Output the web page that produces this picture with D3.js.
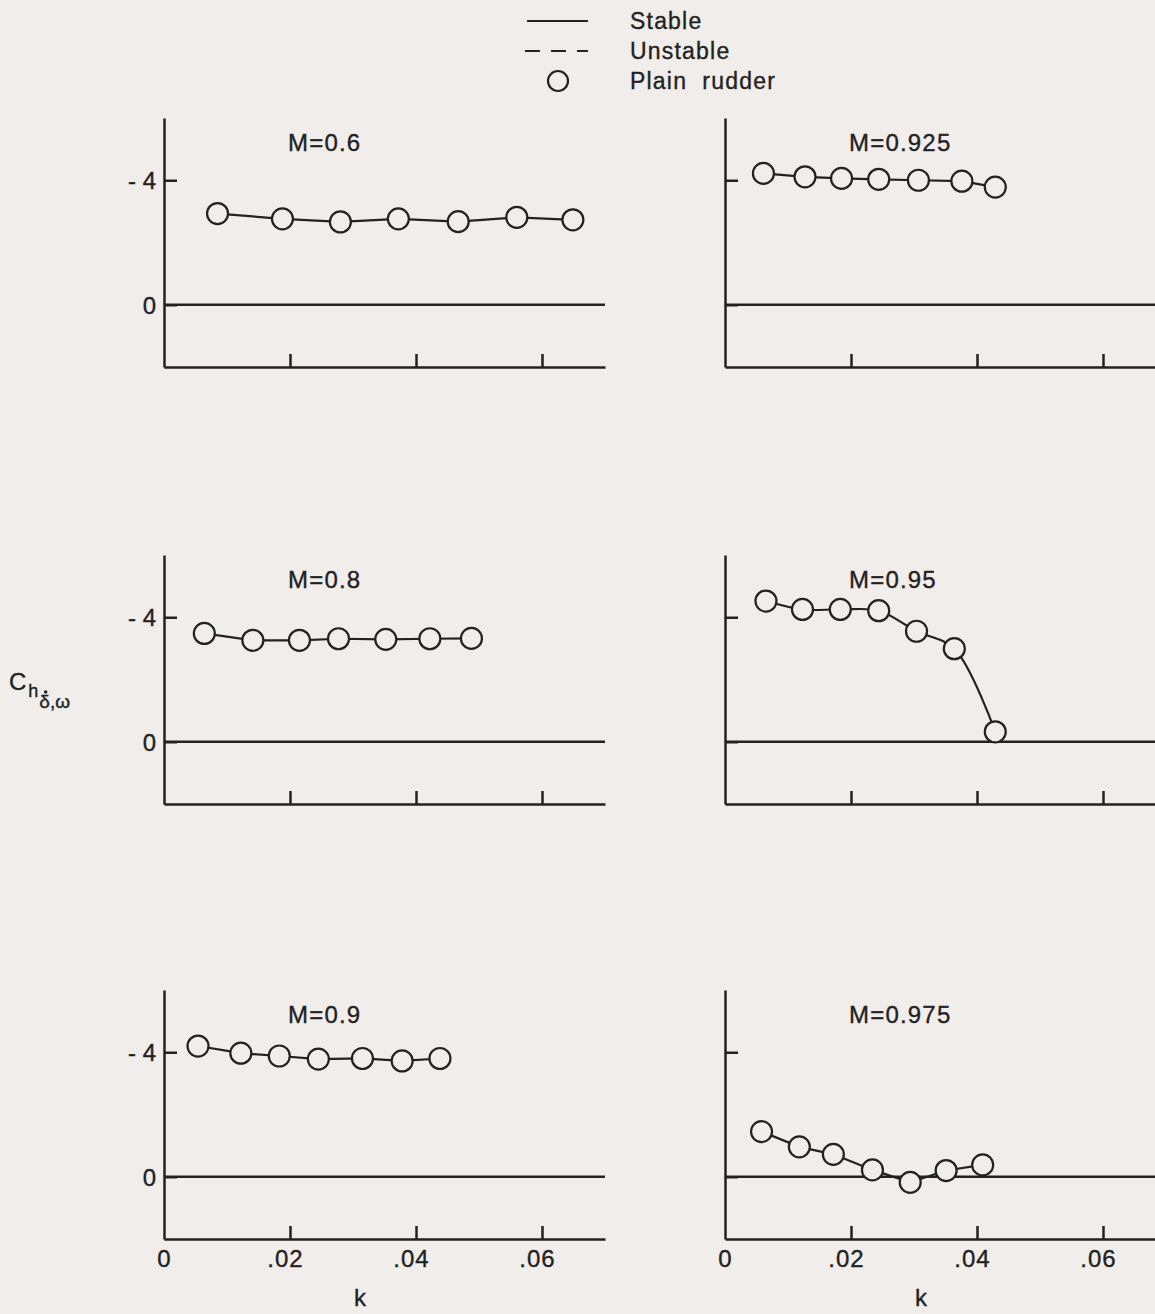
<!DOCTYPE html>
<html><head><meta charset="utf-8">
<script src="https://cdn.jsdelivr.net/npm/d3@7"></script>
<style>
body{margin:0;background:#f1edeb;}
svg{display:block;background:#f1edeb;}
text{font-family:"Liberation Sans",Arial,sans-serif;fill:#222;stroke:#222;stroke-width:0.35px;}
</style>
</head><body>
<svg id="chart" width="1155" height="1314"></svg>
<script>
// ---- data ----
const panelTitles = ["M=0.6", "M=0.8", "M=0.9", "M=0.925", "M=0.95", "M=0.975"];

const kM060 = [0.0085, 0.0188, 0.0280, 0.0372, 0.0467, 0.0560, 0.0649];
const chM060 = [-2.93, -2.76, -2.66, -2.76, -2.67, -2.81, -2.73];

const kM080 = [0.0064, 0.0141, 0.0215, 0.0277, 0.0352, 0.0422, 0.0488];
const chM080 = [-3.48, -3.26, -3.26, -3.31, -3.29, -3.31, -3.32];

const kM090 = [0.0054, 0.0122, 0.0183, 0.0245, 0.0315, 0.0378, 0.0438];
const chM090 = [-4.20, -3.97, -3.88, -3.78, -3.80, -3.72, -3.80];

const kM0925 = [0.0061, 0.0127, 0.0185, 0.0244, 0.0307, 0.0376, 0.0429];
const chM0925 = [-4.22, -4.11, -4.06, -4.03, -4.00, -3.97, -3.78];

const kM095 = [0.0065, 0.0123, 0.0183, 0.0244, 0.0304, 0.0364, 0.0429];
const chM095 = [-4.52, -4.25, -4.25, -4.21, -3.55, -2.99, -0.32];

const kM0975 = [0.0058, 0.0118, 0.0172, 0.0234, 0.0294, 0.0351, 0.0409];
const chM0975 = [-1.45, -0.96, -0.72, -0.22, 0.18, -0.20, -0.38];

const xTickValues = [0, 0.02, 0.04, 0.06];
const xTickLabels = ["0", ".02", ".04", ".06"];
const yTickValues = [-4, 0];
const yTickLabels = ["- 4", "0"];
const xDomain = [0, 0.07];
const yDomain = [-6, 2];

const legendLabels = ["Stable", "Unstable", "Plain  rudder"];
const yAxisLabel = {main: "C", sub1: "h", sub2: "δ,ω"};
const xAxisLabel = "k";

// ---- layout ----
const ink = "#222";
const bg = "#f1edeb";
const colX = [164, 725];
const rowTop = [118, 555, 990];
const panelW = 441, panelH = 249;

const panels = [
  {title: panelTitles[0], k: kM060, v: chM060, col: 0, row: 0, smooth: false},
  {title: panelTitles[1], k: kM080, v: chM080, col: 0, row: 1, smooth: false},
  {title: panelTitles[2], k: kM090, v: chM090, col: 0, row: 2, smooth: false},
  {title: panelTitles[3], k: kM0925, v: chM0925, col: 1, row: 0, smooth: false},
  {title: panelTitles[4], k: kM095, v: chM095, col: 1, row: 1, smooth: true},
  {title: panelTitles[5], k: kM0975, v: chM0975, col: 1, row: 2, smooth: false}
];

const svg = d3.select("#chart");
const x = d3.scaleLinear().domain(xDomain).range([0, panelW]);
const y = d3.scaleLinear().domain(yDomain).range([0, panelH]);
const fontFam = '"Liberation Sans", Arial, sans-serif';

panels.forEach(p => {
  const g = svg.append("g").attr("transform", `translate(${colX[p.col]},${rowTop[p.row]})`);

  // y axis
  const yAx = d3.axisLeft(y).tickValues(yTickValues).tickSize(-13).tickSizeOuter(0).tickPadding(8)
    .tickFormat((d, i) => p.col === 0 ? yTickLabels[i] : "");
  const ya = g.append("g").call(yAx);
  ya.select(".domain").attr("stroke", ink).attr("stroke-width", 2.5);
  ya.selectAll(".tick line").attr("stroke", ink).attr("stroke-width", 2.5);
  ya.selectAll(".tick text").attr("font-size", 24).attr("fill", ink)
    .style("font-family", fontFam).attr("dy", "0.36em");

  // x axis at bottom
  const xAx = d3.axisBottom(x).tickValues(xTickValues).tickSize(-13).tickSizeOuter(0).tickPadding(11)
    .tickFormat((d, i) => p.row === 2 ? xTickLabels[i] : "");
  const xa = g.append("g").attr("transform", `translate(0,${panelH})`).call(xAx);
  xa.select(".domain").attr("stroke", ink).attr("stroke-width", 2.5);
  xa.selectAll(".tick line").attr("stroke", ink).attr("stroke-width", 2.5)
    .attr("opacity", d => d === 0 ? 0 : 1);
  xa.selectAll(".tick text").attr("font-size", 24).attr("fill", ink)
    .style("font-family", fontFam)
    .attr("dx", d => d === 0 ? 0 : -5).attr("letter-spacing", 1);

  // zero line
  g.append("line").attr("x1", 0).attr("x2", panelW).attr("y1", y(0)).attr("y2", y(0))
    .attr("stroke", ink).attr("stroke-width", 2.5);

  // title
  g.append("text").attr("x", 124).attr("y", 33).attr("font-size", 24)
    .attr("letter-spacing", 1.2).text(p.title);

  // data line
  const pts = p.k.map((k, i) => [k, p.v[i]]);
  const line = d3.line().x(d => x(d[0])).y(d => y(d[1]))
    .curve(p.smooth ? d3.curveCatmullRom.alpha(0.5) : d3.curveLinear);
  g.append("path").attr("d", line(pts)).attr("fill", "none").attr("stroke", ink).attr("stroke-width", 2.2);

  g.selectAll("circle.pt").data(pts).join("circle").attr("class", "pt")
    .attr("cx", d => x(d[0])).attr("cy", d => y(d[1])).attr("r", 10.5)
    .attr("fill", bg).attr("stroke", ink).attr("stroke-width", 2.2);

  if (p.row === 2) {
    g.append("text").attr("x", 196).attr("y", 1306 - rowTop[2]).attr("font-size", 24)
      .attr("text-anchor", "middle").text(xAxisLabel);
  }
});

// y axis label
const yl = svg.append("text").attr("x", 9).attr("y", 690).attr("font-size", 24);
yl.append("tspan").text(yAxisLabel.main);
yl.append("tspan").attr("font-size", 18).attr("dy", 7).attr("dx", 2).text(yAxisLabel.sub1);
yl.append("tspan").attr("font-size", 19).attr("dy", 11).attr("dx", 1).text(yAxisLabel.sub2);
// dot over delta (time derivative)
try {
  const ext = yl.node().getExtentOfChar(2);
  svg.append("circle").attr("cx", ext.x + ext.width / 2 + 1).attr("cy", ext.y + 1)
    .attr("r", 1.8).attr("fill", ink);
} catch (e) {}

// legend
const lg = svg.append("g");
lg.append("line").attr("x1", 527).attr("x2", 588).attr("y1", 21).attr("y2", 21)
  .attr("stroke", ink).attr("stroke-width", 2.2);
lg.append("line").attr("x1", 525).attr("x2", 588).attr("y1", 51).attr("y2", 51)
  .attr("stroke", ink).attr("stroke-width", 2.2).attr("stroke-dasharray", "15,11");
lg.append("circle").attr("cx", 558).attr("cy", 81).attr("r", 10)
  .attr("fill", bg).attr("stroke", ink).attr("stroke-width", 2.2);
const legY = [29, 59, 89];
legendLabels.forEach((t, i) => {
  lg.append("text").attr("x", 630).attr("y", legY[i]).attr("font-size", 23)
    .attr("letter-spacing", 1.2).style("white-space", "pre").text(t);
});
</script>
</body></html>
